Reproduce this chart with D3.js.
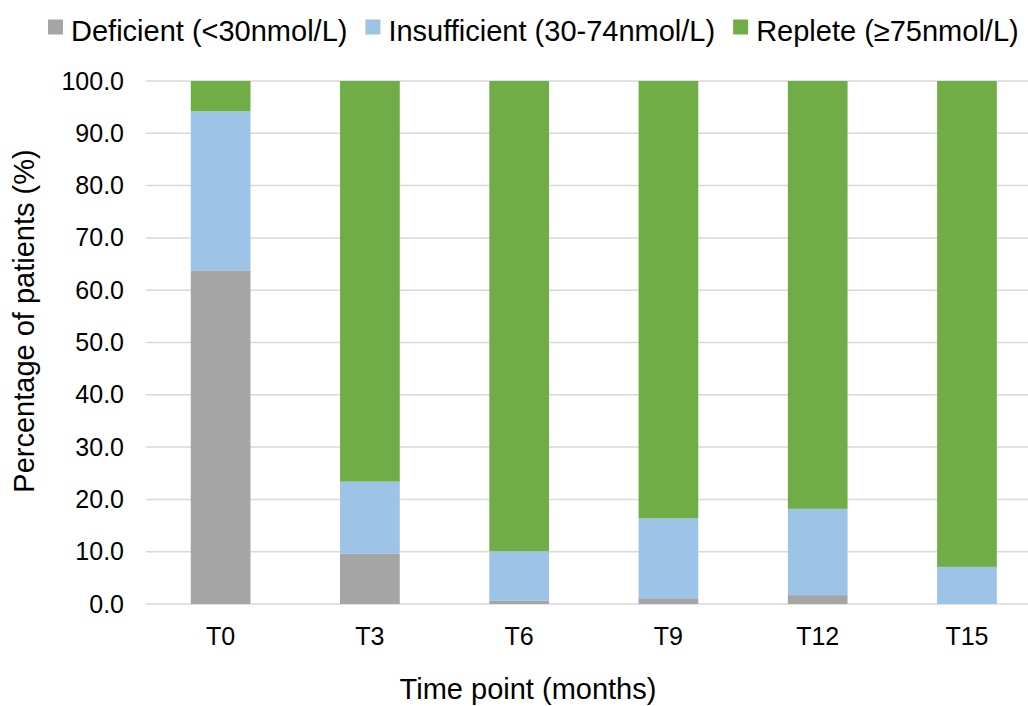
<!DOCTYPE html>
<html><head><meta charset="utf-8">
<script src="https://cdn.jsdelivr.net/npm/d3@7"></script>
<style>body{margin:0;background:#fff}svg{display:block;font-family:"Liberation Sans",Arial,sans-serif}</style>
</head><body><svg id="c" width="1028" height="706"></svg>
<script>
const categories = ["T0","T3","T6","T9","T12","T15"];
const deficient = [63.7, 9.6, 0.6, 1.1, 1.7, 0.0];
const insufficient = [30.5, 13.8, 9.5, 15.3, 16.5, 7.1];
const replete = [5.8, 76.6, 89.9, 83.6, 81.8, 92.9];
const seriesNames = ["Deficient (<30nmol/L)", "Insufficient (30-74nmol/L)", "Replete (\u226575nmol/L)"];
const seriesKeys = ["deficient","insufficient","replete"];
const colors = ["#a5a5a5","#9dc3e6","#70ad47"];
const yTicks = [0,10,20,30,40,50,60,70,80,90,100];

const svg = d3.select("#c");
const pLeft = 146, pRight = 1041.6, pTop = 81, pBottom = 604;
const x = d3.scaleBand().domain(categories).range([pLeft, pRight]).paddingInner(0.6).paddingOuter(0.3);
const y = d3.scaleLinear().domain([0,100]).range([pBottom, pTop]);

// gridlines
svg.append("g").selectAll("line").data(yTicks).join("line")
  .attr("x1", pLeft).attr("x2", pRight)
  .attr("y1", d=>y(d)).attr("y2", d=>y(d))
  .attr("stroke", "#d9d9d9").attr("stroke-width", 1.5);

const table = categories.map((c,i)=>({cat:c, deficient:deficient[i], insufficient:insufficient[i], replete:replete[i]}));
const stack = d3.stack().keys(seriesKeys)(table);
svg.append("g").selectAll("g").data(stack).join("g")
  .attr("fill", (d,i)=>colors[i])
  .selectAll("rect").data(d=>d).join("rect")
  .attr("x", d=>x(d.data.cat)).attr("width", x.bandwidth())
  .attr("y", d=>y(Math.min(100,d[1]))).attr("height", d=>Math.max(0, y(d[0]) - y(Math.min(100,d[1]))));

// y axis
const ya = svg.append("g").attr("transform", `translate(${pLeft},0)`)
  .call(d3.axisLeft(y).tickValues(yTicks).tickFormat(d3.format(".1f")).tickSize(0).tickPadding(22));
ya.select(".domain").remove();
ya.selectAll("text").attr("font-size", 25).attr("fill", "#000").attr("font-family", "Liberation Sans, Arial, sans-serif");

// x axis
const xa = svg.append("g").attr("transform", `translate(0,${pBottom})`)
  .call(d3.axisBottom(x).tickSize(0).tickPadding(23));
xa.select(".domain").remove();
xa.selectAll("text").attr("font-size", 25).attr("fill", "#000").attr("font-family", "Liberation Sans, Arial, sans-serif");

// axis titles
svg.append("text").attr("x", 528).attr("y", 699).attr("text-anchor","middle")
  .attr("font-size", 29).attr("fill","#000").text("Time point (months)");
svg.append("text").attr("transform","translate(34,321) rotate(-90)").attr("text-anchor","middle")
  .attr("font-size", 29).attr("fill","#000").text("Percentage of patients (%)");

// legend
const lg = svg.append("g");
const items = lg.selectAll("g").data(seriesNames).join("g");
items.append("rect").attr("width", 15).attr("height", 15).attr("y", -21.5).attr("fill", (d,i)=>colors[i]);
items.append("text").attr("x", 23).attr("y", 0).attr("font-size", 29).attr("fill","#000").text(d=>d);
let pos = 48;
items.each(function(){
  const w = this.querySelector("text").getComputedTextLength();
  d3.select(this).attr("transform", `translate(${pos},41)`);
  pos += 23 + w + 18;
});
</script></body></html>
